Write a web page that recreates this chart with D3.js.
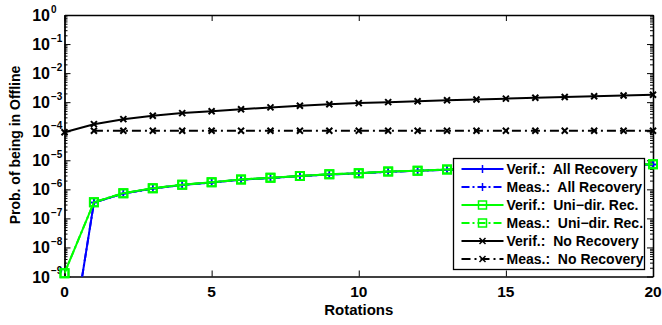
<!DOCTYPE html>
<html>
<head>
<meta charset="utf-8">
<script src="https://cdn.jsdelivr.net/npm/d3@7"></script>
<style>
  body { margin: 0; background: #fff; }
  text { font-family: "Liberation Sans", Arial, sans-serif; font-weight: bold; }
</style>
</head>
<body>
<div id="chart"></div>
<script>
var rotations = [0, 1, 2, 3, 4, 5, 6, 7, 8, 9, 10, 11, 12, 13, 14, 15, 16, 17, 18, 19, 20];

var verif_all = [1.5e-13, 3.5e-7, 7.2e-7, 1.06e-6, 1.42e-6, 1.72e-6, 2.15e-6, 2.45e-6, 2.85e-6, 3.25e-6, 3.55e-6,
  4.0e-6, 4.35e-6, 4.75e-6, 5.1e-6, 5.5e-6, 5.9e-6, 6.3e-6, 6.6e-6, 7.0e-6, 7.2e-6];
var meas_all = verif_all;
var verif_uni = [1.3e-9, 3.6e-7, 7.4e-7, 1.08e-6, 1.44e-6, 1.74e-6, 2.2e-6, 2.5e-6, 2.9e-6, 3.3e-6, 3.6e-6,
  4.1e-6, 4.4e-6, 4.8e-6, 5.1e-6, 5.5e-6, 5.9e-6, 6.3e-6, 6.6e-6, 7.0e-6, 7.3e-6];
var meas_uni = verif_uni;
var verif_none = [0.92e-4, 1.75e-4, 2.6e-4, 3.4e-4, 4.2e-4, 4.9e-4, 5.7e-4, 6.6e-4, 7.5e-4, 8.5e-4, 9.3e-4,
  1.0e-3, 1.08e-3, 1.16e-3, 1.24e-3, 1.32e-3, 1.42e-3, 1.5e-3, 1.6e-3, 1.7e-3, 1.8e-3];
var meas_none = [null, 1.04e-4, 1.04e-4, 1.04e-4, 1.04e-4, 1.04e-4, 1.04e-4, 1.04e-4, 1.04e-4, 1.04e-4, 1.04e-4,
  1.04e-4, 1.04e-4, 1.04e-4, 1.04e-4, 1.04e-4, 1.04e-4, 1.04e-4, 1.04e-4, 1.04e-4, 1.04e-4];

var x_ticks = [0, 5, 10, 15, 20];
var y_exponents = [0, -1, -2, -3, -4, -5, -6, -7, -8, -9];

var legend_labels = ["Verif.:  All Recovery", "Meas.:  All Recovery", "Verif.:  Uni\u2212dir. Rec.",
  "Meas.:  Uni\u2212dir. Rec.", "Verif.:  No Recovery", "Meas.:  No Recovery"];

var series = [
  {name: legend_labels[0], values: verif_all, color: "#0000ff", dash: null, marker: "plus"},
  {name: legend_labels[1], values: meas_all, color: "#0000ff", dash: "8,3,2,3", marker: "plus"},
  {name: legend_labels[2], values: verif_uni, color: "#00ff00", dash: null, marker: "square"},
  {name: legend_labels[3], values: meas_uni, color: "#00ff00", dash: "8,3,2,3", marker: "square"},
  {name: legend_labels[4], values: verif_none, color: "#000000", dash: null, marker: "cross"},
  {name: legend_labels[5], values: meas_none, color: "#000000", dash: "9,4,2,4", marker: "cross"}
];

var W = 662, H = 325;
var plotL = 64.5, plotR = 653, plotT = 15, plotB = 276.5;

var svg = d3.select("#chart")
  .append("svg")
  .attr("width", W)
  .attr("height", H);

var x = d3.scaleLinear().domain([0, 20]).range([plotL, plotR]);
var y = d3.scaleLog().domain([1e-9, 1]).range([plotB, plotT]);

var majors = y_exponents.map(e => Math.pow(10, e));
var minors = y.ticks().filter(v => Math.abs(Math.log10(v) - Math.round(Math.log10(v))) > 1e-6);

// axes, MATLAB style ticks pointing inward
function drawAxis(axis, tx, ty) {
  var g = svg.append("g")
    .attr("transform", "translate(" + tx + "," + ty + ")")
    .call(axis);
  g.selectAll("path.domain").attr("stroke", "#000").attr("stroke-width", 1.3);
  g.selectAll("line").attr("stroke", "#000");
  g.selectAll("text").remove();
  return g;
}

drawAxis(d3.axisBottom(x).tickValues(x_ticks).tickSizeInner(-6).tickSizeOuter(0), 0, plotB);
drawAxis(d3.axisTop(x).tickValues(x_ticks).tickSizeInner(-6).tickSizeOuter(0), 0, plotT);
drawAxis(d3.axisLeft(y).tickValues(majors).tickSizeInner(-6).tickSizeOuter(0), plotL, 0);
drawAxis(d3.axisLeft(y).tickValues(minors).tickSizeInner(-3).tickSizeOuter(0), plotL, 0);
drawAxis(d3.axisRight(y).tickValues(majors).tickSizeInner(-6).tickSizeOuter(0), plotR, 0);
drawAxis(d3.axisRight(y).tickValues(minors).tickSizeInner(-3).tickSizeOuter(0), plotR, 0);

// tick labels
svg.append("g").selectAll("text")
  .data(x_ticks)
  .join("text")
    .attr("x", d => x(d))
    .attr("y", 297)
    .attr("text-anchor", "middle")
    .attr("font-size", 15.5)
    .text(d => d);

var ylab = svg.append("g").selectAll("g")
  .data(y_exponents)
  .join("g")
    .attr("transform", d => "translate(0," + y(Math.pow(10, d)) + ")");
ylab.append("text")
  .attr("x", 50)
  .attr("y", 6)
  .attr("text-anchor", "end")
  .attr("font-size", 16)
  .text("10");
ylab.append("text")
  .attr("x", 51)
  .attr("y", -2.5)
  .attr("font-size", 10)
  .text(d => d == 0 ? "0" : "\u2212" + (-d));

svg.append("text")
  .attr("x", (plotL + plotR) / 2)
  .attr("y", 315)
  .attr("text-anchor", "middle")
  .attr("font-size", 15)
  .text("Rotations");

svg.append("text")
  .attr("transform", "translate(19.5,145) rotate(-90)")
  .attr("text-anchor", "middle")
  .attr("font-size", 14)
  .text("Prob. of being in Offline");

// lines
svg.append("clipPath").attr("id", "clip")
  .append("rect")
  .attr("x", plotL).attr("y", plotT)
  .attr("width", plotR - plotL).attr("height", plotB - plotT);

var line = d3.line()
  .defined(d => d[1] != null)
  .x(d => x(d[0]))
  .y(d => y(d[1]));

function markerPath(type) {
  if (type == "plus") return "M-4,0H4M0,-4V4";
  if (type == "square") return "M-4,-4H4V4H-4Z";
  return "M-3,-3L3,3M-3,3L3,-3";
}

series.forEach(function(s) {
  var pts = rotations.map((r, i) => [r, s.values[i]]);
  svg.append("path")
    .datum(pts)
    .attr("clip-path", "url(#clip)")
    .attr("fill", "none")
    .attr("stroke", s.color)
    .attr("stroke-width", 2)
    .attr("stroke-dasharray", s.dash)
    .attr("d", line);
  svg.append("g").selectAll("path")
    .data(pts.filter(d => d[1] != null && d[1] >= 1e-9))
    .join("path")
      .attr("transform", d => "translate(" + x(d[0]) + "," + y(d[1]) + ")")
      .attr("fill", "none")
      .attr("stroke", s.color)
      .attr("stroke-width", s.marker == "plus" ? 1.5 : 2)
      .attr("d", markerPath(s.marker));
});

// legend
var lg = svg.append("g").attr("transform", "translate(453.5,158.5)");
lg.append("rect")
  .attr("width", 191)
  .attr("height", 111)
  .attr("fill", "#fff")
  .attr("stroke", "#000")
  .attr("stroke-width", 1.3);

var rows = lg.selectAll("g.row")
  .data(series)
  .join("g")
    .attr("class", "row")
    .attr("transform", (d, i) => "translate(0," + (10.5 + i * 18) + ")");
rows.append("line")
  .attr("x1", 8).attr("x2", 50)
  .attr("stroke", d => d.color)
  .attr("stroke-width", 2)
  .attr("stroke-dasharray", d => d.dash);
rows.append("path")
  .attr("transform", "translate(29,0)")
  .attr("fill", "none")
  .attr("stroke", d => d.color)
  .attr("stroke-width", 1.5)
  .attr("d", d => markerPath(d.marker));
rows.append("text")
  .attr("x", 53)
  .attr("y", 5)
  .attr("font-size", 14)
  .style("white-space", "pre")
  .text(d => d.name);
</script>
</body>
</html>
